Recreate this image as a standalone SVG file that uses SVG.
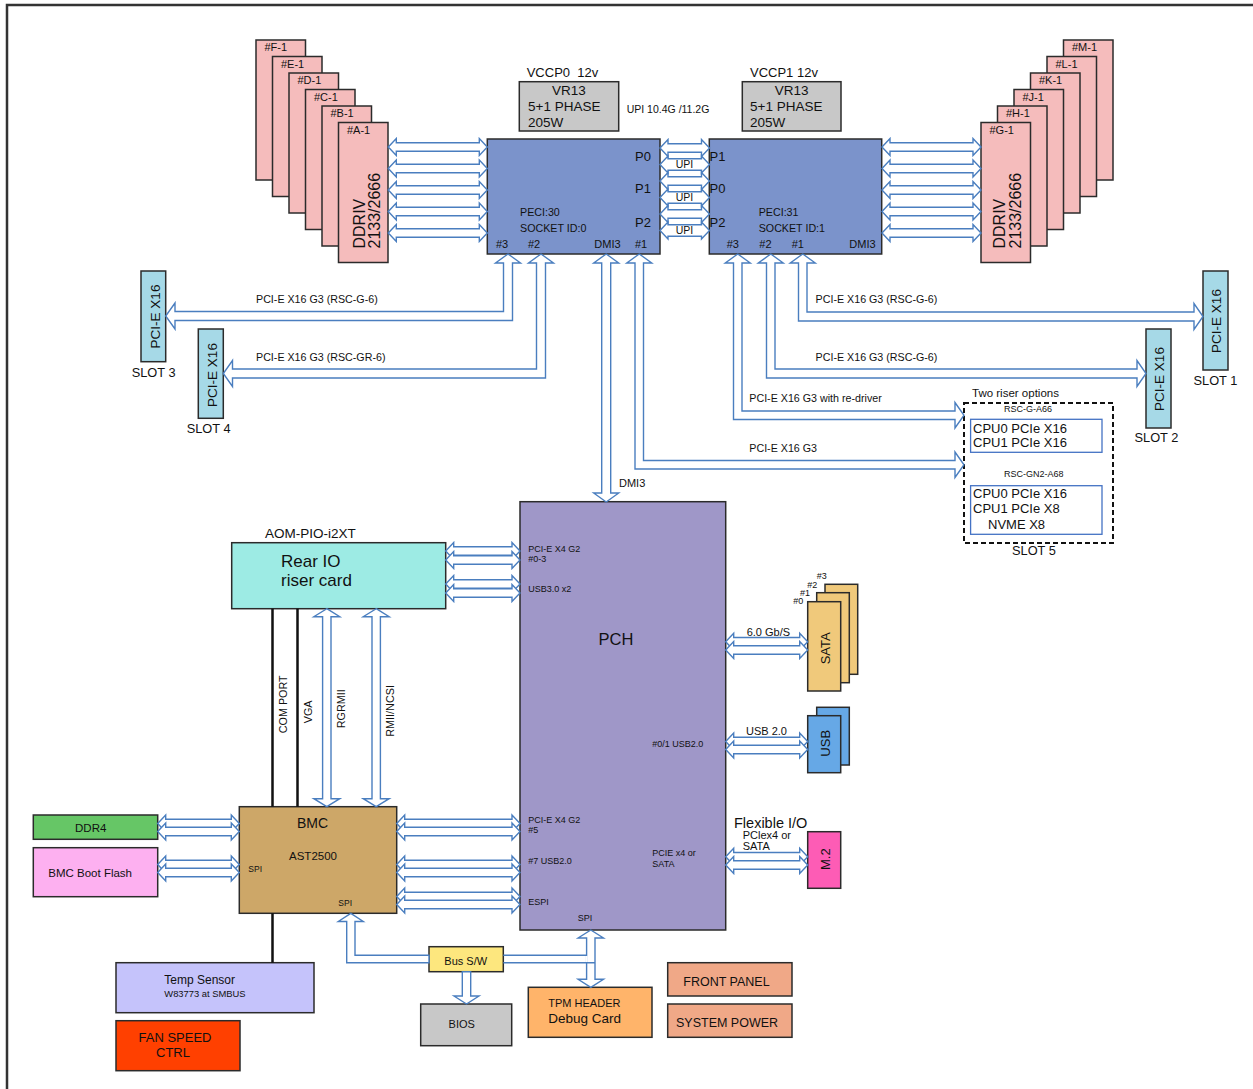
<svg xmlns="http://www.w3.org/2000/svg" xmlns:xlink="http://www.w3.org/1999/xlink" width="1253" height="1089" viewBox="0 0 1253 1089">
<style>
.t{font-family:"Liberation Sans",Arial,sans-serif;fill:#111}
.ar{fill:#fff;stroke:#4a7ebf;stroke-width:1.4}
.bx{stroke:#2b2b2b;stroke-width:1.5}
.dimm{fill:#f5bcbc}
.slot{fill:#a6d9e7}
.blk{stroke:#111;stroke-width:2.5;fill:none}
</style>
<defs>
<polygon id="a99" class="ar" points="0,0 8,-8.5 8,-4.2 91,-4.2 91,-8.5 99,0 91,8.5 91,4.2 8,4.2 8,8.5"/>
<polygon id="aupi" class="ar" points="0,0 8,-8.5 8,-4.2 41.5,-4.2 41.5,-8.5 49.5,0 41.5,8.5 41.5,4.2 8,4.2 8,8.5"/>
<polygon id="aupiT" class="ar" points="0,0 8,-8.5 8,-5.8 41.5,-5.8 41.5,-8.5 49.5,0 41.5,8.5 41.5,5.8 8,5.8 8,8.5"/>
<polygon id="ario" class="ar" points="0,0 8,-8.5 8,-4.2 66.3,-4.2 66.3,-8.5 74.3,0 66.3,8.5 66.3,4.2 8,4.2 8,8.5"/>
<polygon id="addr" class="ar" points="0,0 8,-8.5 8,-4.2 73.6,-4.2 73.6,-8.5 81.6,0 73.6,8.5 73.6,4.2 8,4.2 8,8.5"/>
<polygon id="abp" class="ar" points="0,0 8,-8.5 8,-4.2 115.3,-4.2 115.3,-8.5 123.3,0 115.3,8.5 115.3,4.2 8,4.2 8,8.5"/>
<polygon id="asat" class="ar" points="0,0 8,-8.5 8,-4.2 74,-4.2 74,-8.5 82,0 74,8.5 74,4.2 8,4.2 8,8.5"/>
</defs>

<path d="M7,1089 V5 H1253" fill="none" stroke="#333" stroke-width="2.5"/>

<g id="dimms-left">
<rect class="bx dimm" x="256" y="40" width="49.5" height="140"/><text class="t" x="264.5" y="51" font-size="11">#F-1</text>
<rect class="bx dimm" x="272.5" y="56.5" width="49.5" height="140"/><text class="t" x="281" y="67.5" font-size="11">#E-1</text>
<rect class="bx dimm" x="289" y="73" width="49.5" height="140"/><text class="t" x="297.5" y="84" font-size="11">#D-1</text>
<rect class="bx dimm" x="305.5" y="89.5" width="49.5" height="140"/><text class="t" x="314" y="100.5" font-size="11">#C-1</text>
<rect class="bx dimm" x="322" y="106" width="49.5" height="140"/><text class="t" x="330.5" y="117" font-size="11">#B-1</text>
<rect class="bx dimm" x="338.5" y="122.5" width="49.5" height="140"/><text class="t" x="347" y="133.5" font-size="11">#A-1</text>
<text class="t" font-size="16" transform="translate(364.5,248.5) rotate(-90)">DDRIV</text>
<text class="t" font-size="16" transform="translate(380,248.5) rotate(-90)">2133/2666</text>
</g>

<g id="dimms-right">
<rect class="bx dimm" x="1063.5" y="40" width="49.5" height="140"/><text class="t" x="1072" y="51" font-size="11">#M-1</text>
<rect class="bx dimm" x="1047" y="56.5" width="49.5" height="140"/><text class="t" x="1055.5" y="67.5" font-size="11">#L-1</text>
<rect class="bx dimm" x="1030.5" y="73" width="49.5" height="140"/><text class="t" x="1039" y="84" font-size="11">#K-1</text>
<rect class="bx dimm" x="1014" y="89.5" width="49.5" height="140"/><text class="t" x="1022.5" y="100.5" font-size="11">#J-1</text>
<rect class="bx dimm" x="997.5" y="106" width="49.5" height="140"/><text class="t" x="1006" y="117" font-size="11">#H-1</text>
<rect class="bx dimm" x="981" y="122.5" width="49.5" height="140"/><text class="t" x="989.5" y="133.5" font-size="11">#G-1</text>
<text class="t" font-size="16" transform="translate(1005,248.5) rotate(-90)">DDRIV</text>
<text class="t" font-size="16" transform="translate(1020.5,248.5) rotate(-90)">2133/2666</text>
</g>

<g id="vr0">
<text class="t" x="526.7" y="77.3" font-size="13" style="white-space:pre">VCCP0  12v</text>
<rect class="bx" x="519.3" y="81.7" width="99.4" height="49.3" fill="#c8c8c8"/>
<text class="t" x="569" y="95" font-size="13.5" text-anchor="middle">VR13</text>
<text class="t" x="528" y="110.7" font-size="13.5">5+1 PHASE</text>
<text class="t" x="528" y="126.7" font-size="13.5">205W</text>
</g>
<g id="vr1">
<text class="t" x="750" y="77.3" font-size="13">VCCP1 12v</text>
<rect class="bx" x="742.3" y="81.7" width="98.7" height="49.3" fill="#c8c8c8"/>
<text class="t" x="791.7" y="95" font-size="13.5" text-anchor="middle">VR13</text>
<text class="t" x="750" y="110.7" font-size="13.5">5+1 PHASE</text>
<text class="t" x="750" y="126.7" font-size="13.5">205W</text>
</g>
<text class="t" x="626.7" y="112.7" font-size="10.5">UPI 10.4G /11.2G</text>

<g id="cpu0">
<rect class="bx" x="487.3" y="139" width="172.7" height="115" fill="#7b93cb"/>
<text class="t" x="635" y="160.7" font-size="13">P0</text>
<text class="t" x="635" y="193.3" font-size="13">P1</text>
<text class="t" x="635" y="226.7" font-size="13">P2</text>
<text class="t" x="520" y="216" font-size="10.7">PECI:30</text>
<text class="t" x="520" y="231.7" font-size="10.7">SOCKET ID:0</text>
<text class="t" x="496" y="248.3" font-size="11">#3</text>
<text class="t" x="528" y="248.3" font-size="11">#2</text>
<text class="t" x="594.3" y="248.3" font-size="11">DMI3</text>
<text class="t" x="635" y="248.3" font-size="11">#1</text>
</g>
<g id="cpu1">
<rect class="bx" x="709.3" y="139" width="172.4" height="115" fill="#7b93cb"/>
<text class="t" x="709.5" y="160.7" font-size="13">P1</text>
<text class="t" x="709.5" y="193.3" font-size="13">P0</text>
<text class="t" x="709.5" y="226.7" font-size="13">P2</text>
<text class="t" x="758.7" y="216" font-size="10.7">PECI:31</text>
<text class="t" x="758.7" y="231.7" font-size="10.7">SOCKET ID:1</text>
<text class="t" x="726.7" y="248.3" font-size="11">#3</text>
<text class="t" x="759.3" y="248.3" font-size="11">#2</text>
<text class="t" x="791.7" y="248.3" font-size="11">#1</text>
<text class="t" x="849.3" y="248.3" font-size="11">DMI3</text>
</g>

<g id="slot3">
<rect class="bx slot" x="141" y="271" width="24.7" height="90.7"/>
<text class="t" font-size="13.5" text-anchor="middle" transform="translate(159.5,316.5) rotate(-90)">PCI-E X16</text>
<text class="t" x="131.7" y="376.7" font-size="12.8">SLOT 3</text>
</g>
<g id="slot4">
<rect class="bx slot" x="198.3" y="329" width="25" height="89.3"/>
<text class="t" font-size="13.5" text-anchor="middle" transform="translate(217,375) rotate(-90)">PCI-E X16</text>
<text class="t" x="186.7" y="433.3" font-size="12.8">SLOT 4</text>
</g>
<g id="slot1">
<rect class="bx slot" x="1203" y="271" width="25" height="99"/>
<text class="t" font-size="13.5" text-anchor="middle" transform="translate(1220.5,321) rotate(-90)">PCI-E X16</text>
<text class="t" x="1193.5" y="385" font-size="12.8">SLOT 1</text>
</g>
<g id="slot2">
<rect class="bx slot" x="1146" y="329" width="25" height="99"/>
<text class="t" font-size="13.5" text-anchor="middle" transform="translate(1163.5,379) rotate(-90)">PCI-E X16</text>
<text class="t" x="1134.5" y="441.7" font-size="12.8">SLOT 2</text>
</g>
<g id="slot5">
<text class="t" x="972" y="396.7" font-size="11.5">Two riser options</text>
<rect x="964" y="403" width="149" height="140" fill="none" stroke="#111" stroke-width="2" stroke-dasharray="5,3"/>
<text class="t" x="1004" y="411.7" font-size="9">RSC-G-A66</text>
<rect x="970.6" y="419.3" width="131.4" height="33" fill="#fff" stroke="#4472c4" stroke-width="1.3"/>
<text class="t" x="973" y="432.7" font-size="13">CPU0 PCIe X16</text>
<text class="t" x="973" y="447.3" font-size="13">CPU1 PCIe X16</text>
<text class="t" x="1004" y="476.7" font-size="9">RSC-GN2-A68</text>
<rect x="970.6" y="485.7" width="131.4" height="48.6" fill="#fff" stroke="#4472c4" stroke-width="1.3"/>
<text class="t" x="973" y="498.3" font-size="13">CPU0 PCIe X16</text>
<text class="t" x="973" y="513.3" font-size="13">CPU1 PCIe X8</text>
<text class="t" x="988" y="529.3" font-size="13">NVME X8</text>
<text class="t" x="1012" y="555" font-size="12.8">SLOT 5</text>
</g>

<g id="pch">
<rect class="bx" x="520" y="501.7" width="205.7" height="428.3" fill="#9f97c8"/>
<text class="t" x="528.3" y="551.7" font-size="9">PCI-E X4 G2</text>
<text class="t" x="528.3" y="561.7" font-size="9">#0-3</text>
<text class="t" x="528.3" y="591.7" font-size="9">USB3.0 x2</text>
<text class="t" x="616" y="645" font-size="16.5" text-anchor="middle">PCH</text>
<text class="t" x="652.3" y="747.3" font-size="9">#0/1 USB2.0</text>
<text class="t" x="528.3" y="823.3" font-size="9">PCI-E X4 G2</text>
<text class="t" x="528.3" y="833.3" font-size="9">#5</text>
<text class="t" x="528.3" y="864" font-size="9">#7 USB2.0</text>
<text class="t" x="652.3" y="856" font-size="9">PCIE x4 or</text>
<text class="t" x="652.3" y="866.7" font-size="9">SATA</text>
<text class="t" x="528.3" y="905" font-size="9">ESPI</text>
<text class="t" x="577.7" y="921" font-size="9">SPI</text>
</g>

<g id="rear-io">
<text class="t" x="265" y="538.3" font-size="13.5">AOM-PIO-i2XT</text>
<rect class="bx" x="231.7" y="542.7" width="214" height="66" fill="#9debe4"/>
<text class="t" x="281" y="567.3" font-size="17">Rear IO</text>
<text class="t" x="281" y="586" font-size="17">riser card</text>
</g>

<g id="bmc">
<rect class="bx" x="239.3" y="806.7" width="157.4" height="106.6" fill="#cda768"/>
<text class="t" x="312.5" y="827.7" font-size="14" text-anchor="middle">BMC</text>
<text class="t" x="313" y="860" font-size="11.5" text-anchor="middle">AST2500</text>
<text class="t" x="248.3" y="872.3" font-size="8.5">SPI</text>
<text class="t" x="338.3" y="905.7" font-size="8.5">SPI</text>
</g>
<g id="ddr4">
<rect class="bx" x="33.3" y="815" width="124.4" height="24.3" fill="#66c666"/>
<text class="t" x="90.7" y="832.3" font-size="11.5" text-anchor="middle">DDR4</text>
</g>
<g id="boot-flash">
<rect class="bx" x="33.3" y="847.7" width="124.4" height="49" fill="#fdb0f0"/>
<text class="t" x="48.3" y="876.7" font-size="11.5">BMC Boot Flash</text>
</g>

<g id="sata">
<rect class="bx" x="825" y="584.3" width="32.7" height="90" fill="#f0c97b"/>
<rect class="bx" x="816.7" y="592.7" width="32.6" height="90" fill="#f0c97b"/>
<rect class="bx" x="807.7" y="601.7" width="33" height="89.3" fill="#f0c97b"/>
<text class="t" x="816.7" y="579.3" font-size="9">#3</text>
<text class="t" x="807.3" y="587.7" font-size="9">#2</text>
<text class="t" x="800" y="596" font-size="9">#1</text>
<text class="t" x="793.3" y="604.3" font-size="9">#0</text>
<text class="t" font-size="13" text-anchor="middle" transform="translate(830,648.3) rotate(-90)">SATA</text>
</g>
<g id="usb">
<rect class="bx" x="816.7" y="707.3" width="32.6" height="57.7" fill="#66a8e6"/>
<rect class="bx" x="807.7" y="715.7" width="33" height="57" fill="#66a8e6"/>
<text class="t" font-size="13" text-anchor="middle" transform="translate(830,743.3) rotate(-90)">USB</text>
</g>
<g id="m2">
<rect class="bx" x="807.7" y="831.7" width="33" height="56.6" fill="#fd5cb5"/>
<text class="t" font-size="13" text-anchor="middle" transform="translate(830,859.2) rotate(-90)">M.2</text>
</g>

<g id="temp-sensor">
<rect class="bx" x="116" y="962.7" width="198" height="50" fill="#c5c3fb"/>
<text class="t" x="164.3" y="984" font-size="12">Temp Sensor</text>
<text class="t" x="164.3" y="996.7" font-size="9.4">W83773 at SMBUS</text>
</g>
<g id="fan">
<rect class="bx" x="116" y="1020.7" width="124" height="50" fill="#ff4000"/>
<text class="t" x="175" y="1041.7" font-size="13" text-anchor="middle">FAN SPEED</text>
<text class="t" x="173" y="1057.3" font-size="13" text-anchor="middle">CTRL</text>
</g>
<g id="bus-sw">
<rect class="bx" x="429" y="946.7" width="74.3" height="25" fill="#fde77e"/>
<text class="t" x="465.7" y="965" font-size="11" text-anchor="middle">Bus S/W</text>
</g>
<g id="bios">
<rect class="bx" x="420.7" y="1004" width="91" height="41.7" fill="#c8c8c8"/>
<text class="t" x="461.7" y="1028.3" font-size="11" text-anchor="middle">BIOS</text>
</g>
<g id="tpm">
<rect class="bx" x="528.3" y="987.3" width="123.7" height="50" fill="#ffb46a"/>
<text class="t" x="548.3" y="1007.3" font-size="11">TPM HEADER</text>
<text class="t" x="548.3" y="1023.3" font-size="13.5">Debug Card</text>
</g>
<g id="front-panel">
<rect class="bx" x="667.7" y="962.7" width="124.3" height="33.3" fill="#f0a887"/>
<text class="t" x="683.3" y="985.7" font-size="12.5">FRONT PANEL</text>
</g>
<g id="system-power">
<rect class="bx" x="667.7" y="1004" width="124.3" height="33.3" fill="#f0a887"/>
<text class="t" x="676" y="1026.7" font-size="12.5">SYSTEM POWER</text>
</g>

<g id="connectors">
<!-- DIMM links -->
<use xlink:href="#a99" x="388.3" y="147"/>
<use xlink:href="#a99" x="388.3" y="168.5"/>
<use xlink:href="#a99" x="388.3" y="190"/>
<use xlink:href="#a99" x="388.3" y="211.5"/>
<use xlink:href="#a99" x="388.3" y="233"/>
<use xlink:href="#a99" x="882" y="147"/>
<use xlink:href="#a99" x="882" y="168.5"/>
<use xlink:href="#a99" x="882" y="190"/>
<use xlink:href="#a99" x="882" y="211.5"/>
<use xlink:href="#a99" x="882" y="233"/>
<!-- UPI -->
<use xlink:href="#aupi" x="660" y="148"/>
<use xlink:href="#aupiT" x="660" y="164.5"/>
<use xlink:href="#aupi" x="660" y="181"/>
<use xlink:href="#aupiT" x="660" y="197.5"/>
<use xlink:href="#aupi" x="660" y="214"/>
<use xlink:href="#aupiT" x="660" y="230.5"/>
<text class="t" x="684.5" y="168" font-size="10.5" text-anchor="middle">UPI</text>
<text class="t" x="684.5" y="201" font-size="10.5" text-anchor="middle">UPI</text>
<text class="t" x="684.5" y="234" font-size="10.5" text-anchor="middle">UPI</text>
<!-- PCIe from CPU0 -->
<polygon class="ar" points="508,254 520.5,263 512.5,263 512.5,320.5 175,320.5 175,329 165.7,316 175,303 175,311.5 503.5,311.5 503.5,263 495.5,263"/>
<text class="t" x="256" y="303.3" font-size="10.7">PCI-E X16 G3 (RSC-G-6)</text>
<polygon class="ar" points="541,254 553.5,263 545.5,263 545.5,378 232.5,378 232.5,386.5 223.3,373.5 232.5,360.5 232.5,369 536.5,369 536.5,263 528.5,263"/>
<text class="t" x="256" y="361" font-size="10.7">PCI-E X16 G3 (RSC-GR-6)</text>
<polygon class="ar" points="639.25,254 651.75,263 643.5,263 643.5,460.5 955,460.5 955,452 964,464.75 955,477.5 955,469 635,469 635,263 626.75,263"/>
<text class="t" x="749.3" y="451.7" font-size="10.7">PCI-E X16 G3</text>
<!-- PCIe from CPU1 -->
<polygon class="ar" points="802.75,254 815.25,263 807,263 807,312 1194,312 1194,303.5 1203,316.5 1194,329.5 1194,321 798.5,321 798.5,263 790.25,263"/>
<text class="t" x="815.6" y="303.3" font-size="10.7">PCI-E X16 G3 (RSC-G-6)</text>
<polygon class="ar" points="770.75,254 783.25,263 775,263 775,369 1137,369 1137,360.5 1146,373.5 1137,386.5 1137,378 766.5,378 766.5,263 758.25,263"/>
<text class="t" x="815.6" y="361" font-size="10.7">PCI-E X16 G3 (RSC-G-6)</text>
<polygon class="ar" points="737.75,254 750.25,263 742,263 742,411 955,411 955,402.5 964,415.25 955,428 955,419.5 733.5,419.5 733.5,263 725.25,263"/>
<text class="t" x="749.3" y="401.7" font-size="10.7">PCI-E X16 G3 with re-driver</text>
<!-- DMI3 -->
<polygon class="ar" points="606.2,254 618.7,263 610.7,263 610.7,493 618.7,493 606.2,502 593.7,493 601.7,493 601.7,263 593.7,263"/>
<text class="t" x="619" y="487.3" font-size="11">DMI3</text>
<!-- Rear IO to PCH -->
<use xlink:href="#ario" x="445.7" y="551"/>
<use xlink:href="#ario" x="445.7" y="560"/>
<use xlink:href="#ario" x="445.7" y="584"/>
<use xlink:href="#ario" x="445.7" y="593"/>
<!-- Rear IO to BMC -->
<path class="blk" d="M272.5,608.7 V806.7 M297.5,608.7 V806.7 M272.5,913.3 V962.7"/>
<polygon class="ar" points="326.8,608.7 339.8,616.7 331,616.7 331,798.7 339.8,798.7 326.8,806.7 313.8,798.7 322.6,798.7 322.6,616.7 313.8,616.7"/>
<polygon class="ar" points="376.2,608.7 389.2,616.7 380.4,616.7 380.4,798.7 389.2,798.7 376.2,806.7 363.2,798.7 372,798.7 372,616.7 363.2,616.7"/>
<text class="t" font-size="10.8" transform="translate(286.7,733.3) rotate(-90)">COM PORT</text>
<text class="t" font-size="10.8" transform="translate(311.7,723.3) rotate(-90)">VGA</text>
<text class="t" font-size="10.8" transform="translate(345,728.3) rotate(-90)">RGRMII</text>
<text class="t" font-size="10.8" transform="translate(394,736.7) rotate(-90)">RMII/NCSI</text>
<!-- BMC links -->
<use xlink:href="#addr" x="157.7" y="823.5"/>
<use xlink:href="#addr" x="157.7" y="831.5"/>
<use xlink:href="#addr" x="157.7" y="864.5"/>
<use xlink:href="#addr" x="157.7" y="872.5"/>
<use xlink:href="#abp" x="396.7" y="823.5"/>
<use xlink:href="#abp" x="396.7" y="831.5"/>
<use xlink:href="#abp" x="396.7" y="864.5"/>
<use xlink:href="#abp" x="396.7" y="872.5"/>
<use xlink:href="#abp" x="396.7" y="896.5"/>
<use xlink:href="#abp" x="396.7" y="904.5"/>
<!-- PCH right side -->
<use xlink:href="#asat" x="725.7" y="641.7"/>
<use xlink:href="#asat" x="725.7" y="650"/>
<text class="t" x="746.7" y="636" font-size="11">6.0 Gb/S</text>
<use xlink:href="#asat" x="725.7" y="741.5"/>
<use xlink:href="#asat" x="725.7" y="749.5"/>
<text class="t" x="746" y="735" font-size="11">USB 2.0</text>
<use xlink:href="#asat" x="725.7" y="856.7"/>
<use xlink:href="#asat" x="725.7" y="865"/>
<text class="t" x="734" y="828.3" font-size="14.5">Flexible I/O</text>
<text class="t" x="742.7" y="839.3" font-size="11">PClex4 or</text>
<text class="t" x="742.7" y="850" font-size="11">SATA</text>
<!-- SPI / Bus S/W -->
<polygon class="ar" points="350.8,913.3 363.3,921.5 355,921.5 355,955.3 429,955.3 429,962.7 346.7,962.7 346.7,921.5 338.3,921.5"/>
<polygon class="ar" points="590.8,930 603.5,938 595,938 595,979.3 603.5,979.3 590.8,987.3 578.1,979.3 586.6,979.3 586.6,938 578.1,938"/>
<rect x="585.6" y="956" width="2" height="6" fill="#fff"/>
<path d="M503.3,955.3 H586.6 M503.3,962.7 H595" fill="none" stroke="#4a7ebf" stroke-width="1.4"/>
<polygon class="ar" points="462.3,971.7 470.7,971.7 470.7,996 479,996 466.5,1004 454,996 462.3,996"/>
</g>
</svg>
